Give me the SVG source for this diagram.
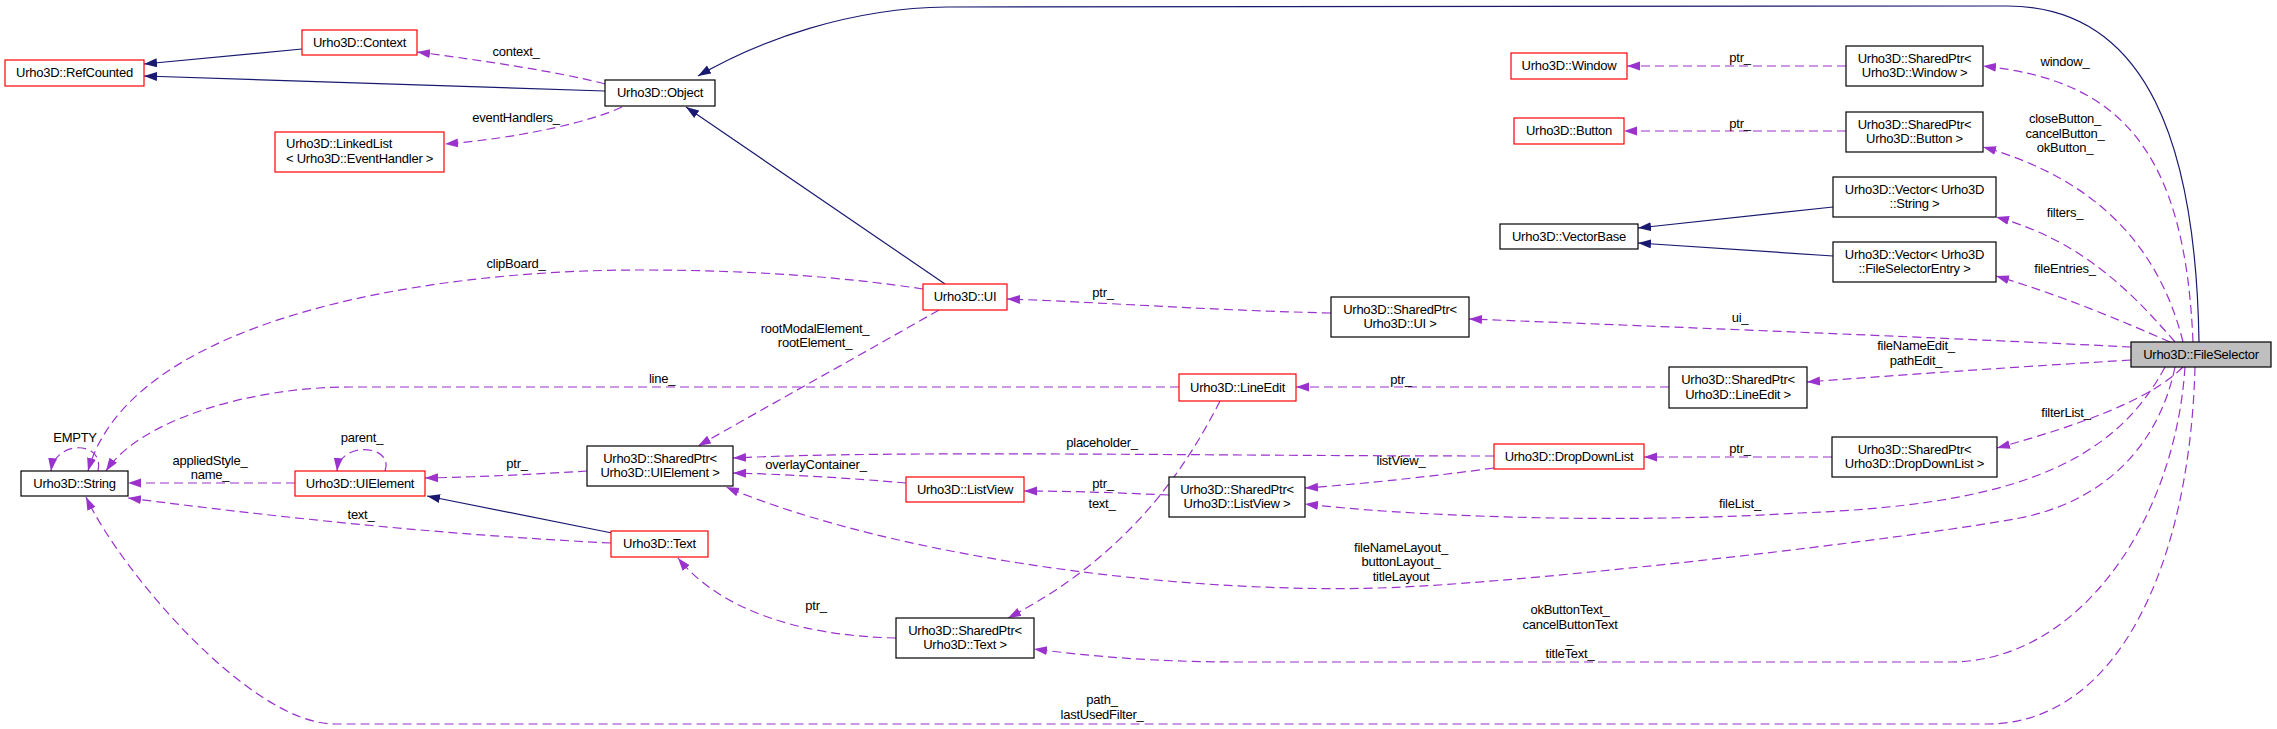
<svg xmlns="http://www.w3.org/2000/svg" width="2277" height="729" viewBox="0 0 2277 729">
<style>
text{font-family:"Liberation Sans",Arial,sans-serif;font-size:13px;letter-spacing:-0.25px;fill:#000}
.c{text-anchor:middle}
.n rect{fill:#fff;stroke:#000;stroke-width:1.2}
.r rect{stroke:#ff0000}
.g rect{fill:#bfbfbf}
.u{fill:none;stroke:#9a32cd;stroke-width:1.2;stroke-dasharray:9,5}
.i{fill:none;stroke:#191970;stroke-width:1.2}
</style>
<defs>
<marker id="ap" markerUnits="userSpaceOnUse" markerWidth="14" markerHeight="10" refX="13" refY="4.5" orient="auto"><path d="M0,0 L13,4.5 L0,9 z" fill="#9a32cd" stroke="none"/></marker>
<marker id="ab" markerUnits="userSpaceOnUse" markerWidth="14" markerHeight="10" refX="13" refY="4.5" orient="auto"><path d="M0,0 L13,4.5 L0,9 z" fill="#191970" stroke="none"/></marker>
</defs>
<g id="edges">
<path class="i" marker-end="url(#ab)" d="M302,49 L144,64"/>
<path class="i" marker-end="url(#ab)" d="M605,91 L144,76"/>
<path class="i" marker-end="url(#ab)" d="M2199,342 C2196,150 2150,6 2007,6 L947,7 C850,8 760,40 698,76"/>
<path class="i" marker-end="url(#ab)" d="M945,284 L686,107"/>
<path class="i" marker-end="url(#ab)" d="M1833,207 L1638,228"/>
<path class="i" marker-end="url(#ab)" d="M1833,256 L1638,243"/>
<path class="i" marker-end="url(#ab)" d="M612,533 L427,496"/>
<path class="u" marker-end="url(#ap)" d="M605,84 C560,72 480,60 417,52"/>
<path class="u" marker-end="url(#ap)" d="M622,107 C590,122 520,138 445,144"/>
<path class="u" marker-end="url(#ap)" d="M923,289 C850,278 760,270 640,270 C420,270 130,320 88,471"/>
<path class="u" marker-end="url(#ap)" d="M1331,313 C1200,310 1100,302 1007,299"/>
<path class="u" marker-end="url(#ap)" d="M2131,347 C1950,338 1700,328 1469,319"/>
<path class="u" marker-end="url(#ap)" d="M939,310 C860,355 770,405 698,446"/>
<path class="u" marker-end="url(#ap)" d="M1179,387 L350,387 C250,387 140,420 106,471"/>
<path class="u" marker-end="url(#ap)" d="M1669,387 L1296,387"/>
<path class="u" marker-end="url(#ap)" d="M2131,360 C2000,368 1900,375 1807,382"/>
<path class="u" marker-end="url(#ap)" d="M1832,457 L1644,457"/>
<path class="u" marker-end="url(#ap)" d="M2183,367 C2150,400 2080,425 1997,448"/>
<path class="u" marker-end="url(#ap)" d="M1494,456 C1200,456 900,450 733,458"/>
<path class="u" marker-end="url(#ap)" d="M1494,468 C1420,478 1350,485 1305,488"/>
<path class="u" marker-end="url(#ap)" d="M1169,495 C1100,492 1060,491 1024,491"/>
<path class="u" marker-end="url(#ap)" d="M906,483 C850,478 780,474 733,473"/>
<path class="u" marker-end="url(#ap)" d="M2165,367 C2110,470 2000,505 1800,513 C1600,525 1400,515 1305,504"/>
<path class="u" marker-end="url(#ap)" d="M2175,367 C2160,440 2110,500 2020,518 C1900,540 1550,580 1404,587 C1200,597 900,560 726,487"/>
<path class="u" marker-end="url(#ap)" d="M2185,367 C2175,520 2080,662 1950,662 L1240,662 C1150,662 1090,656 1034,649"/>
<path class="u" marker-end="url(#ap)" d="M2195,367 C2190,560 2120,724 1987,724 L335,724 C250,724 120,570 86,497"/>
<path class="u" marker-end="url(#ap)" d="M2193,342 C2185,150 2120,80 1983,66"/>
<path class="u" marker-end="url(#ap)" d="M2183,342 C2160,250 2100,180 1983,147"/>
<path class="u" marker-end="url(#ap)" d="M2175,342 C2130,290 2080,240 1996,217"/>
<path class="u" marker-end="url(#ap)" d="M2170,342 C2120,320 2060,295 1996,276"/>
<path class="u" marker-end="url(#ap)" d="M1846,66 L1627,66"/>
<path class="u" marker-end="url(#ap)" d="M1846,131 L1624,131"/>
<path class="u" marker-end="url(#ap)" d="M587,471 C540,474 480,477 425,478"/>
<path class="u" marker-end="url(#ap)" d="M295,483 L128,483"/>
<path class="u" marker-end="url(#ap)" d="M385,471 C395,445 340,440 337,471"/>
<path class="u" marker-end="url(#ap)" d="M98,471 C105,440 55,440 51,471"/>
<path class="u" marker-end="url(#ap)" d="M611,543 C450,535 300,520 128,498"/>
<path class="u" marker-end="url(#ap)" d="M896,638 C800,636 720,610 678,558"/>
<path class="u" marker-end="url(#ap)" d="M1220,401 C1180,480 1120,560 1008,618"/>
<g class="c">
<text x="516" y="56">context_</text>
<text x="516" y="122">eventHandlers_</text>
<text x="516" y="268">clipBoard_</text>
<text x="75" y="442">EMPTY</text>
<text x="362" y="442">parent_</text>
<text x="210" y="465">appliedStyle_</text>
<text x="210" y="479">name_</text>
<text x="517" y="468">ptr_</text>
<text x="361" y="519">text_</text>
<text x="815" y="333">rootModalElement_</text>
<text x="815" y="347">rootElement_</text>
<text x="1103" y="297">ptr_</text>
<text x="662" y="383">line_</text>
<text x="1102" y="447">placeholder_</text>
<text x="816" y="469">overlayContainer_</text>
<text x="1103" y="488">ptr_</text>
<text x="1102" y="508">text_</text>
<text x="816" y="610">ptr_</text>
<text x="1102" y="704">path_</text>
<text x="1102" y="719">lastUsedFilter_</text>
<text x="1740" y="62">ptr_</text>
<text x="1740" y="128">ptr_</text>
<text x="1740" y="322">ui_</text>
<text x="1401" y="384">ptr_</text>
<text x="1740" y="453">ptr_</text>
<text x="1401" y="465">listView_</text>
<text x="1740" y="508">fileList_</text>
<text x="1401" y="552">fileNameLayout_</text>
<text x="1401" y="566">buttonLayout_</text>
<text x="1401" y="581">titleLayout</text>
<text x="1570" y="614">okButtonText_</text>
<text x="1570" y="629">cancelButtonText</text>
<text x="1570" y="643">_</text>
<text x="1570" y="658">titleText_</text>
<text x="2065" y="66">window_</text>
<text x="2065" y="123">closeButton_</text>
<text x="2065" y="138">cancelButton_</text>
<text x="2065" y="152">okButton_</text>
<text x="2065" y="217">filters_</text>
<text x="2065" y="273">fileEntries_</text>
<text x="1916" y="350">fileNameEdit_</text>
<text x="1916" y="365">pathEdit_</text>
<text x="2066" y="417">filterList_</text>
</g>
</g>
<g id="n_refcounted" class="n r"><rect x="5" y="60" width="139" height="26"/><text class="c" x="74.5" y="77">Urho3D::RefCounted</text></g>
<g id="n_context" class="n r"><rect x="302" y="30" width="115" height="25"/><text class="c" x="359.5" y="46.5">Urho3D::Context</text></g>
<g id="n_linkedlist" class="n r"><rect x="275" y="132" width="169" height="40"/><text x="286" y="148">Urho3D::LinkedList</text><text x="286" y="162.5">&lt; Urho3D::EventHandler &gt;</text></g>
<g id="n_object" class="n"><rect x="605" y="80" width="110" height="26"/><text class="c" x="660" y="97">Urho3D::Object</text></g>
<g id="n_ui" class="n r"><rect x="923" y="284" width="84" height="26"/><text class="c" x="965" y="301">Urho3D::UI</text></g>
<g id="n_string" class="n"><rect x="21" y="471" width="107" height="25"/><text class="c" x="74.5" y="487.5">Urho3D::String</text></g>
<g id="n_uielement" class="n r"><rect x="295" y="471" width="130" height="25"/><text class="c" x="360" y="487.5">Urho3D::UIElement</text></g>
<g id="n_sp_uielement" class="n"><rect x="587" y="446" width="146" height="40"/><text class="c" x="660" y="462.5">Urho3D::SharedPtr&lt;</text><text class="c" x="660" y="477">Urho3D::UIElement &gt;</text></g>
<g id="n_listview" class="n r"><rect x="906" y="477" width="118" height="25"/><text class="c" x="965" y="493.5">Urho3D::ListView</text></g>
<g id="n_text" class="n r"><rect x="611" y="531" width="97" height="26"/><text class="c" x="659.5" y="548">Urho3D::Text</text></g>
<g id="n_sp_text" class="n"><rect x="896" y="618" width="138" height="40"/><text class="c" x="965" y="634.5">Urho3D::SharedPtr&lt;</text><text class="c" x="965" y="649">Urho3D::Text &gt;</text></g>
<g id="n_sp_listview" class="n"><rect x="1169" y="477" width="136" height="40"/><text class="c" x="1237" y="493.5">Urho3D::SharedPtr&lt;</text><text class="c" x="1237" y="508">Urho3D::ListView &gt;</text></g>
<g id="n_lineedit" class="n r"><rect x="1179" y="374" width="117" height="27"/><text class="c" x="1237.5" y="391.5">Urho3D::LineEdit</text></g>
<g id="n_dropdownlist" class="n r"><rect x="1494" y="444" width="150" height="25"/><text class="c" x="1569" y="460.5">Urho3D::DropDownList</text></g>
<g id="n_window" class="n r"><rect x="1511" y="53" width="116" height="26"/><text class="c" x="1569" y="70">Urho3D::Window</text></g>
<g id="n_button" class="n r"><rect x="1514" y="118" width="110" height="26"/><text class="c" x="1569" y="135">Urho3D::Button</text></g>
<g id="n_vectorbase" class="n"><rect x="1500" y="224" width="138" height="25"/><text class="c" x="1569" y="240.5">Urho3D::VectorBase</text></g>
<g id="n_sp_ui" class="n"><rect x="1331" y="297" width="138" height="40"/><text class="c" x="1400" y="313.5">Urho3D::SharedPtr&lt;</text><text class="c" x="1400" y="328">Urho3D::UI &gt;</text></g>
<g id="n_sp_lineedit" class="n"><rect x="1669" y="367" width="138" height="41"/><text class="c" x="1738" y="384">Urho3D::SharedPtr&lt;</text><text class="c" x="1738" y="398.5">Urho3D::LineEdit &gt;</text></g>
<g id="n_sp_window" class="n"><rect x="1846" y="46" width="137" height="40"/><text class="c" x="1914.5" y="62.5">Urho3D::SharedPtr&lt;</text><text class="c" x="1914.5" y="77">Urho3D::Window &gt;</text></g>
<g id="n_sp_button" class="n"><rect x="1846" y="112" width="137" height="40"/><text class="c" x="1914.5" y="128.5">Urho3D::SharedPtr&lt;</text><text class="c" x="1914.5" y="143">Urho3D::Button &gt;</text></g>
<g id="n_vec_string" class="n"><rect x="1833" y="177" width="163" height="40"/><text class="c" x="1914.5" y="193.5">Urho3D::Vector&lt; Urho3D</text><text class="c" x="1914.5" y="208">::String &gt;</text></g>
<g id="n_vec_fse" class="n"><rect x="1833" y="242" width="163" height="40"/><text class="c" x="1914.5" y="258.5">Urho3D::Vector&lt; Urho3D</text><text class="c" x="1914.5" y="273">::FileSelectorEntry &gt;</text></g>
<g id="n_sp_dropdownlist" class="n"><rect x="1832" y="437" width="165" height="40"/><text class="c" x="1914.5" y="453.5">Urho3D::SharedPtr&lt;</text><text class="c" x="1914.5" y="468">Urho3D::DropDownList &gt;</text></g>
<g id="n_fileselector" class="n g"><rect x="2131" y="342" width="140" height="25"/><text class="c" x="2201" y="358.5">Urho3D::FileSelector</text></g>
</svg>
